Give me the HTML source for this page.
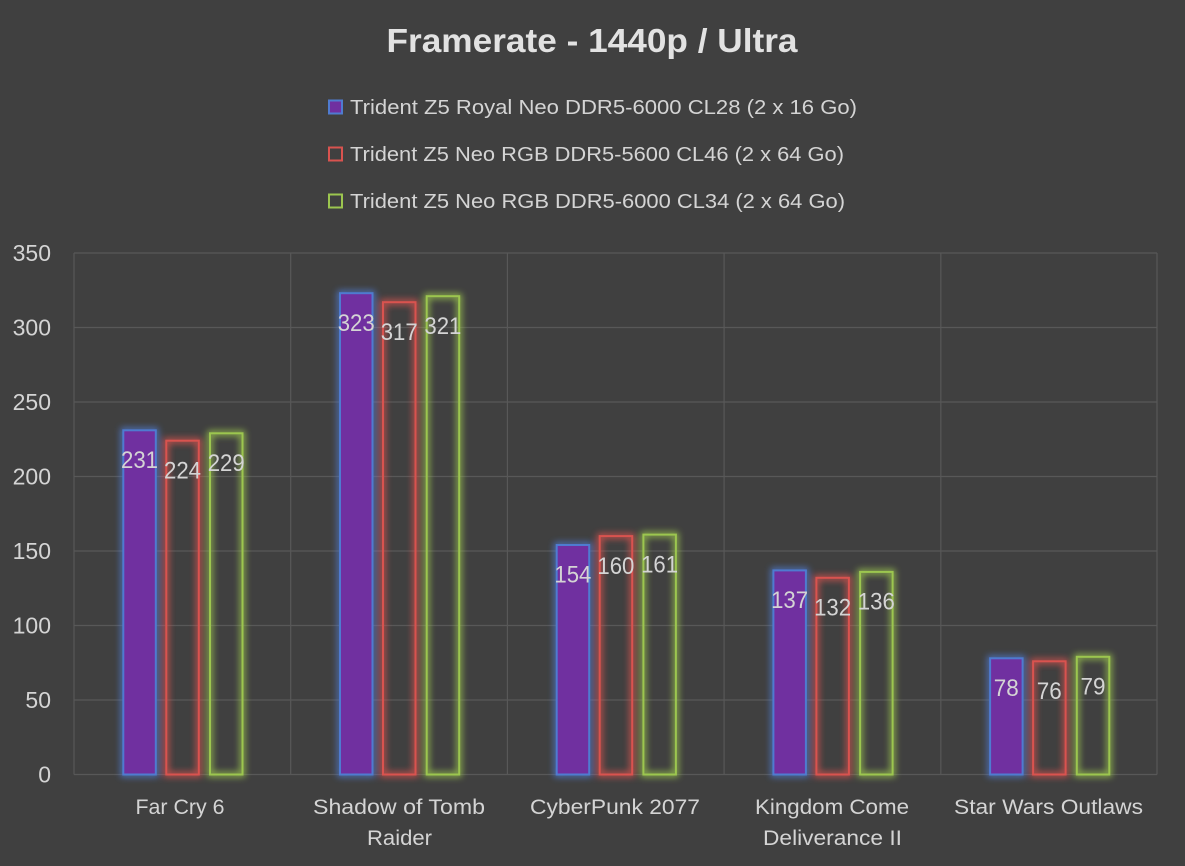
<!DOCTYPE html>
<html><head><meta charset="utf-8"><style>
html,body{margin:0;padding:0;background:#404040;}
svg{display:block;}
text{font-family:"Liberation Sans",sans-serif;fill:#d4d4d4;}
</style></head><body>
<svg width="1185" height="866" viewBox="0 0 1185 866" xmlns="http://www.w3.org/2000/svg">
<defs>
<filter id="g" x="-60%" y="-20%" width="220%" height="140%"><feGaussianBlur stdDeviation="3.5"/></filter>
</defs>
<rect width="1185" height="866" fill="#404040"/>
<text x="592" y="52" text-anchor="middle" font-size="33.5" font-weight="bold" style="fill:#e2e2e2" textLength="411" lengthAdjust="spacingAndGlyphs">Framerate - 1440p / Ultra</text>

<!-- legend -->
<rect x="329" y="100.5" width="13" height="13" fill="#7030A0" stroke="#4F7BD0" stroke-width="2"/>
<text x="350" y="114" font-size="20.5" textLength="507" lengthAdjust="spacingAndGlyphs">Trident Z5 Royal Neo DDR5-6000 CL28 (2 x 16 Go)</text>
<rect x="329" y="147.5" width="13" height="13" fill="none" stroke="#D9534F" stroke-width="2"/>
<text x="350" y="161" font-size="20.5" textLength="494" lengthAdjust="spacingAndGlyphs">Trident Z5 Neo RGB DDR5-5600 CL46 (2 x 64 Go)</text>
<rect x="329" y="194.5" width="13" height="13" fill="none" stroke="#9CC64F" stroke-width="2"/>
<text x="350" y="208" font-size="20.5" textLength="495" lengthAdjust="spacingAndGlyphs">Trident Z5 Neo RGB DDR5-6000 CL34 (2 x 64 Go)</text>

<!-- grid -->
<g stroke="#585858" stroke-width="1.2">
<line x1="74" y1="253" x2="1157" y2="253"/>
<line x1="74" y1="327.5" x2="1157" y2="327.5"/>
<line x1="74" y1="402" x2="1157" y2="402"/>
<line x1="74" y1="476.5" x2="1157" y2="476.5"/>
<line x1="74" y1="551" x2="1157" y2="551"/>
<line x1="74" y1="625.5" x2="1157" y2="625.5"/>
<line x1="74" y1="700" x2="1157" y2="700"/>
<line x1="74" y1="774.5" x2="1157" y2="774.5"/>
<line x1="74" y1="253" x2="74" y2="774.5"/>
<line x1="290.7" y1="253" x2="290.7" y2="774.5"/>
<line x1="507.4" y1="253" x2="507.4" y2="774.5"/>
<line x1="724.1" y1="253" x2="724.1" y2="774.5"/>
<line x1="940.8" y1="253" x2="940.8" y2="774.5"/>
<line x1="1157" y1="253" x2="1157" y2="774.5"/>
</g>

<!-- y labels -->
<g font-size="23" text-anchor="end">
<text x="51" y="261">350</text>
<text x="51" y="335.5">300</text>
<text x="51" y="410">250</text>
<text x="51" y="484.5">200</text>
<text x="51" y="559">150</text>
<text x="51" y="633.5">100</text>
<text x="51" y="708">50</text>
<text x="51" y="782.5">0</text>
</g>

<!-- glows -->
<g filter="url(#g)" fill="none" stroke-width="5" opacity="0.9">
<g stroke="#4F7BD0">
<rect x="123.3" y="430.3" width="32.5" height="344.2"/>
<rect x="340" y="293.2" width="32.5" height="481.3"/>
<rect x="556.7" y="545" width="32.5" height="229.5"/>
<rect x="773.4" y="570.4" width="32.5" height="204.1"/>
<rect x="990.1" y="658.3" width="32.5" height="116.2"/>
</g>
<g stroke="#D9534F">
<rect x="166.3" y="440.7" width="32.5" height="333.8"/>
<rect x="383" y="302.2" width="32.5" height="472.3"/>
<rect x="599.7" y="536.1" width="32.5" height="238.4"/>
<rect x="816.4" y="577.8" width="32.5" height="196.7"/>
<rect x="1033.1" y="661.3" width="32.5" height="113.2"/>
</g>
<g stroke="#9CC64F">
<rect x="210" y="433.3" width="32.5" height="341.2"/>
<rect x="426.7" y="296.2" width="32.5" height="478.3"/>
<rect x="643.4" y="534.6" width="32.5" height="239.9"/>
<rect x="860.1" y="571.9" width="32.5" height="202.6"/>
<rect x="1076.8" y="656.8" width="32.5" height="117.7"/>
</g>
</g>

<!-- bars -->
<g fill="#7030A0" stroke="#4F7BD0" stroke-width="2">
<rect x="123.3" y="430.3" width="32.5" height="344.2"/>
<rect x="340" y="293.2" width="32.5" height="481.3"/>
<rect x="556.7" y="545" width="32.5" height="229.5"/>
<rect x="773.4" y="570.4" width="32.5" height="204.1"/>
<rect x="990.1" y="658.3" width="32.5" height="116.2"/>
</g>
<g fill="none" stroke="#D9534F" stroke-width="2">
<rect x="166.3" y="440.7" width="32.5" height="333.8"/>
<rect x="383" y="302.2" width="32.5" height="472.3"/>
<rect x="599.7" y="536.1" width="32.5" height="238.4"/>
<rect x="816.4" y="577.8" width="32.5" height="196.7"/>
<rect x="1033.1" y="661.3" width="32.5" height="113.2"/>
</g>
<g fill="none" stroke="#9CC64F" stroke-width="2">
<rect x="210" y="433.3" width="32.5" height="341.2"/>
<rect x="426.7" y="296.2" width="32.5" height="478.3"/>
<rect x="643.4" y="534.6" width="32.5" height="239.9"/>
<rect x="860.1" y="571.9" width="32.5" height="202.6"/>
<rect x="1076.8" y="656.8" width="32.5" height="117.7"/>
</g>

<!-- data labels -->
<g font-size="24" text-anchor="middle">
<text x="139.5" y="468" textLength="37" lengthAdjust="spacingAndGlyphs">231</text>
<text x="182.5" y="478.4" textLength="37" lengthAdjust="spacingAndGlyphs">224</text>
<text x="226.2" y="471" textLength="37" lengthAdjust="spacingAndGlyphs">229</text>
<text x="356.2" y="330.9" textLength="37" lengthAdjust="spacingAndGlyphs">323</text>
<text x="399.2" y="339.9" textLength="37" lengthAdjust="spacingAndGlyphs">317</text>
<text x="442.9" y="333.9" textLength="37" lengthAdjust="spacingAndGlyphs">321</text>
<text x="572.9" y="582.7" textLength="37" lengthAdjust="spacingAndGlyphs">154</text>
<text x="615.9" y="573.8" textLength="37" lengthAdjust="spacingAndGlyphs">160</text>
<text x="659.6" y="572.3" textLength="37" lengthAdjust="spacingAndGlyphs">161</text>
<text x="789.6" y="608.1" textLength="37" lengthAdjust="spacingAndGlyphs">137</text>
<text x="832.6" y="615.5" textLength="37" lengthAdjust="spacingAndGlyphs">132</text>
<text x="876.3" y="609.6" textLength="37" lengthAdjust="spacingAndGlyphs">136</text>
<text x="1006.3" y="696" textLength="25" lengthAdjust="spacingAndGlyphs">78</text>
<text x="1049.3" y="699" textLength="25" lengthAdjust="spacingAndGlyphs">76</text>
<text x="1093" y="694.5" textLength="25" lengthAdjust="spacingAndGlyphs">79</text>
</g>

<!-- category labels -->
<g font-size="21" text-anchor="middle">
<text x="180" y="814" textLength="89" lengthAdjust="spacingAndGlyphs">Far Cry 6</text>
<text x="399" y="814" textLength="172" lengthAdjust="spacingAndGlyphs">Shadow of Tomb</text>
<text x="399.5" y="845" textLength="65" lengthAdjust="spacingAndGlyphs">Raider</text>
<text x="615" y="814" textLength="170" lengthAdjust="spacingAndGlyphs">CyberPunk 2077</text>
<text x="832" y="814" textLength="154" lengthAdjust="spacingAndGlyphs">Kingdom Come</text>
<text x="832.5" y="845" textLength="139" lengthAdjust="spacingAndGlyphs">Deliverance II</text>
<text x="1048.5" y="814" textLength="189" lengthAdjust="spacingAndGlyphs">Star Wars Outlaws</text>
</g>
</svg>
</body></html>
